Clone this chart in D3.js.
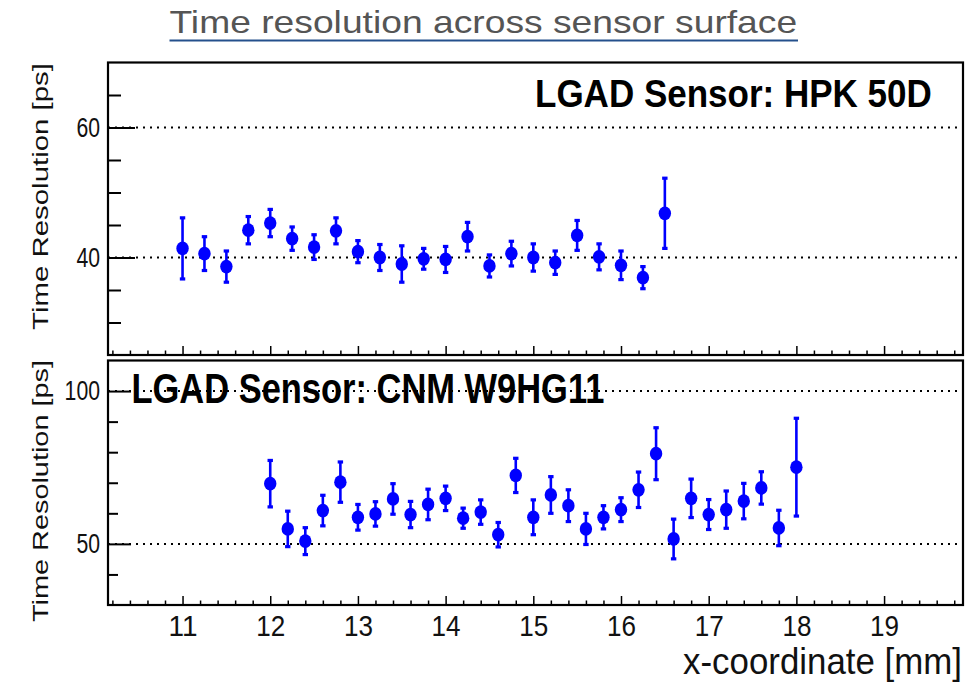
<!DOCTYPE html>
<html>
<head>
<meta charset="utf-8">
<script src="https://cdn.jsdelivr.net/npm/d3@7"></script>
<style>
  body { margin: 0; background: #fff; }
  text { font-family: "Liberation Sans", Arial, Helvetica, sans-serif; }
</style>
</head>
<body>
<svg id="chart" width="968" height="682"></svg>
<script>
// HPK 50D scan
const hpkX = [11, 11.25, 11.5, 11.75, 12, 12.25, 12.5, 12.75, 13, 13.25, 13.5, 13.75,
              14, 14.25, 14.5, 14.75, 15, 15.25, 15.5, 15.75, 16, 16.25, 16.5];
const hpkRes = [41.4, 40.6, 38.6, 44.2, 45.3, 42.9, 41.6, 44.1, 40.9, 40.0, 39.0, 39.8,
                39.7, 43.2, 38.7, 40.6, 40.0, 39.2, 43.4, 40.1, 38.8, 36.9, 46.8];
const hpkErr = [4.7, 2.6, 2.4, 2.1, 2.1, 1.8, 1.9, 2.0, 1.7, 2.0, 2.8, 1.6,
                2.0, 2.2, 1.7, 1.9, 2.1, 1.8, 2.3, 2.0, 2.2, 1.7, 5.4];

// CNM W9HG11 scan
const cnmX = [12, 12.2, 12.4, 12.6, 12.8, 13, 13.2, 13.4, 13.6, 13.8, 14, 14.2, 14.4, 14.6, 14.8,
              15, 15.2, 15.4, 15.6, 15.8, 16, 16.2, 16.4, 16.6, 16.8, 17, 17.2, 17.4, 17.6, 17.8, 18];
const cnmRes = [69.7, 54.9, 50.9, 60.9, 70.2, 58.7, 59.8, 64.7, 59.6, 62.9, 64.9, 58.4, 60.4, 53.0, 72.4,
                58.7, 66.0, 62.5, 54.9, 58.7, 61.2, 67.7, 79.5, 51.6, 64.9, 59.6, 61.2, 64.0, 68.3, 55.2, 75.1];
const cnmErr = [7.6, 5.8, 4.4, 5.0, 6.6, 4.2, 4.0, 5.0, 4.3, 5.0, 4.0, 3.3, 4.0, 4.0, 5.6,
                5.7, 6.0, 5.2, 5.1, 3.8, 3.9, 5.8, 8.5, 6.5, 6.3, 4.9, 6.1, 5.8, 5.3, 5.8, 16.0];

const xMajorTicks = [11, 12, 13, 14, 15, 16, 17, 18, 19];
const hpkYTicks = [40, 60];
const cnmYTicks = [50, 100];

const svg = d3.select('#chart');
const left = 108, right = 963;

const xScale = d3.scaleLinear().domain([10.15, 19.9]).range([left, right]);
const xMinor = d3.range(10.2, 19.85, 0.2).map(v => +v.toFixed(1))
    .filter(v => Math.abs(v - Math.round(v)) > 1e-6);

// squeeze a text horizontally so it is `width` px wide (ROOT fonts look condensed)
function squeeze(sel, width, extra) {
    sel.each(function(d) {
        const w = typeof width === 'function' ? width(d) : width;
        const k = w / this.getComputedTextLength();
        d3.select(this).attr('transform', (extra || '') + ` scale(${k},1)`);
    });
}

// free text placed at (x, y) and squeezed to width
function label(x, y, str, size, width, opts) {
    const t = svg.append('text')
        .attr('x', 0).attr('y', 0)
        .attr('font-size', size)
        .attr('fill', opts.fill || '#111')
        .attr('font-weight', opts.weight || 'normal')
        .attr('text-anchor', opts.anchor || 'start')
        .text(str);
    squeeze(t, width, `translate(${x},${y})` + (opts.rotate ? ' rotate(-90)' : ''));
    return t;
}

// title
label(169.5, 33, 'Time resolution across sensor surface', 31, 628, {fill: '#555'});
svg.append('line')
    .attr('x1', 169.5).attr('x2', 798).attr('y1', 40.5).attr('y2', 40.5)
    .attr('stroke', '#24508c').attr('stroke-width', 2);

function drawPanel(cfg) {
    const g = svg.append('g');
    const y = d3.scaleLinear().domain(cfg.domain).range([cfg.bottom, cfg.top]);

    // dotted grid at major ticks
    g.selectAll('.grid').data(cfg.majors).enter().append('line')
        .attr('x1', left).attr('x2', right)
        .attr('y1', d => y(d)).attr('y2', d => y(d))
        .attr('stroke', '#000').attr('stroke-width', 2)
        .attr('stroke-dasharray', '2,5');

    // y axis: major + minor ticks pointing inside
    const yMajor = g.append('g').attr('transform', `translate(${left},0)`)
        .call(d3.axisLeft(y).tickValues(cfg.majors).tickSize(-cfg.majorLen).tickPadding(0));
    yMajor.select('.domain').remove();
    yMajor.selectAll('line').attr('stroke-width', 2);
    yMajor.selectAll('text').attr('font-size', 27).attr('fill', '#111').attr('x', 0)
        .call(squeeze, d => String(d).length * 11.8, 'translate(-8,0)');
    const yMin = g.append('g').attr('transform', `translate(${left},0)`)
        .call(d3.axisLeft(y).tickValues(cfg.minors).tickSize(-cfg.minorLen).tickFormat(''));
    yMin.select('.domain').remove();
    yMin.selectAll('line').attr('stroke-width', 2);

    // x axis ticks at the bottom of the frame
    const xMaj = g.append('g').attr('transform', `translate(0,${cfg.bottom})`)
        .call(d3.axisBottom(xScale).tickValues(xMajorTicks).tickSize(-9).tickPadding(10)
            .tickFormat(cfg.xLabels ? d3.format('d') : ''));
    xMaj.select('.domain').remove();
    xMaj.selectAll('line').attr('stroke-width', 1.5);
    xMaj.selectAll('text').attr('font-size', 29).attr('fill', '#111')
        .attr('dy', '0.71em').call(squeeze, d => String(d).length * 14.5);
    const xMin = g.append('g').attr('transform', `translate(0,${cfg.bottom})`)
        .call(d3.axisBottom(xScale).tickValues(xMinor).tickSize(-4.5).tickFormat(''));
    xMin.select('.domain').remove();
    xMin.selectAll('line').attr('stroke-width', 1.5);

    // frame
    g.append('rect')
        .attr('x', left).attr('y', cfg.top)
        .attr('width', right - left).attr('height', cfg.bottom - cfg.top)
        .attr('fill', 'none').attr('stroke', '#000').attr('stroke-width', 2.2);

    // y axis title
    label(48, cfg.labelY, 'Time Resolution [ps]', 22, cfg.labelLen, {anchor: 'middle', rotate: true});

    // sensor label
    label(cfg.nameX, cfg.nameY, cfg.name, cfg.nameSize, cfg.nameLen, {fill: '#000', weight: 'bold'});

    // points with error bars
    const pts = cfg.xs.map((x, i) => ({x: x, v: cfg.vals[i], e: cfg.errs[i]}));
    const pg = g.selectAll('.pt').data(pts).enter().append('g');
    pg.append('line')
        .attr('x1', d => xScale(d.x)).attr('x2', d => xScale(d.x))
        .attr('y1', d => y(d.v + d.e)).attr('y2', d => y(d.v - d.e))
        .attr('stroke', '#0000ff').attr('stroke-width', 2.6);
    [1, -1].forEach(s => {
        pg.append('rect')
            .attr('x', d => xScale(d.x) - 2.7)
            .attr('y', d => y(d.v + s * d.e) - 1.6)
            .attr('width', 5.4).attr('height', 3.2)
            .attr('fill', '#0000ff');
    });
    pg.append('ellipse')
        .attr('cx', d => xScale(d.x)).attr('cy', d => y(d.v))
        .attr('rx', 6.2).attr('ry', 6.9)
        .attr('fill', '#0000ff');
}

drawPanel({
    top: 62.5, bottom: 355, domain: [25, 70],
    majors: hpkYTicks, minors: [30, 35, 45, 50, 55, 65],
    majorLen: 27, minorLen: 13, xLabels: false,
    labelY: 196.5, labelLen: 267,
    name: 'LGAD Sensor: HPK 50D', nameX: 535, nameY: 107, nameSize: 39, nameLen: 397,
    xs: hpkX, vals: hpkRes, errs: hpkErr
});

drawPanel({
    top: 360.5, bottom: 605, domain: [30, 110],
    majors: cnmYTicks, minors: [40, 60, 70, 80, 90],
    majorLen: 23, minorLen: 10, xLabels: true,
    labelY: 491, labelLen: 262,
    name: 'LGAD Sensor: CNM W9HG11', nameX: 131.5, nameY: 403, nameSize: 43, nameLen: 473,
    xs: cnmX, vals: cnmRes, errs: cnmErr
});

// x axis title
label(962, 674, 'x-coordinate [mm]', 37, 279, {anchor: 'end'});
</script>
</body>
</html>
